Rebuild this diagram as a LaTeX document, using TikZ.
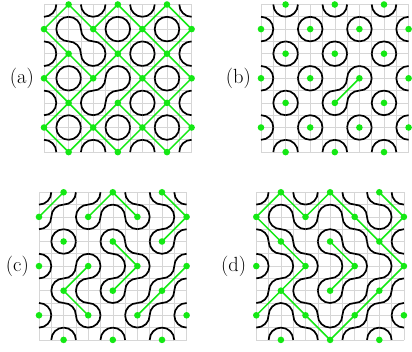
\documentclass[tikz,border=0pt]{standalone}
\definecolor{dotgreen}{RGB}{20,232,20}
\def\latu{24.6}
\def\halfu{12.3}
\tikzset{
  gridline/.style={black!16, line width=0.6pt},
  loopline/.style={black, line width=1.7pt},
  clusterline/.style={dotgreen, line width=1.5pt, shorten <=-1.5pt, shorten >=-1.5pt},
  gdot/.style={circle, fill=dotgreen, inner sep=0pt, minimum size=6.6pt},
  lbl/.style={font=\fontsize{20.5}{24}\selectfont, anchor=east, inner sep=0pt}
}
\newcommand\tilepanel[4]{%
\begin{scope}[shift={(#2,-#3)}]
 \foreach \i in {0,...,12}{
   \draw[gridline] (\i*\halfu,0) -- (\i*\halfu,-12*\halfu);
   \draw[gridline] (0,-\i*\halfu) -- (12*\halfu,-\i*\halfu);
 }
 \foreach \rowlist [count=\br from 0] in {#4}{
   \foreach \s [count=\bc from 0] in \rowlist{
     \pgfmathtruncatemacro\m{mod(\bc+\br+\s,2)}
     \ifnum\m=1
       \draw[loopline] (\bc*\latu+\halfu,-\br*\latu) arc[start angle=0,end angle=-90,radius=\halfu];
       \draw[loopline] (\bc*\latu+\halfu,-\br*\latu-\latu) arc[start angle=180,end angle=90,radius=\halfu];
     \else
       \draw[loopline] (\bc*\latu+\halfu,-\br*\latu) arc[start angle=180,end angle=270,radius=\halfu];
       \draw[loopline] (\bc*\latu+\halfu,-\br*\latu-\latu) arc[start angle=0,end angle=90,radius=\halfu];
     \fi
   }
 }
 \foreach \c in {0,...,6}{
   \foreach \r in {0,...,6}{
     \pgfmathtruncatemacro\q{mod(\c+\r,2)}
     \ifnum\q=1 \node[gdot] (#1-\c-\r) at (\c*\latu,-\r*\latu) {}; \fi
   }
 }
 \foreach \rowlist [count=\br from 0] in {#4}{
   \foreach \s [count=\bc from 0] in \rowlist{
     \ifnum\s=1
       \pgfmathtruncatemacro\p{mod(\bc+\br,2)}
       \pgfmathtruncatemacro\cc{\bc+1}
       \pgfmathtruncatemacro\rr{\br+1}
       \ifnum\p=0
         \draw[clusterline] (#1-\cc-\br) -- (#1-\bc-\rr);
       \else
         \draw[clusterline] (#1-\bc-\br) -- (#1-\cc-\rr);
       \fi
     \fi
   }
 }
 \node[lbl] (#1-label) at (-10,-3*\latu) {(#1)};
\end{scope}}
\begin{document}
\begin{tikzpicture}[x=1pt,y=1pt]
\fill[white] (0,0) rectangle (412,-352);
\useasboundingbox (0,0) rectangle (412,-352);
\tilepanel{a}{44}{4.5}{{1,1,1,1,1,1},{1,0,1,1,1,1},{1,1,1,1,1,1},{1,1,0,1,1,1},{1,1,1,1,1,1},{1,1,1,1,1,1}}
\tilepanel{b}{261}{4.5}{{0,0,0,0,0,0},{0,0,0,0,0,0},{0,0,0,0,0,0},{0,0,0,1,0,0},{0,0,0,0,0,0},{0,0,0,0,0,0}}
\tilepanel{c}{39}{192.3}{{1,0,1,1,0,1},{0,0,0,0,0,1},{0,0,0,1,0,0},{0,1,0,1,0,1},{0,1,0,0,1,0},{0,0,0,0,0,0}}
\tilepanel{d}{256.3}{192.3}{{1,1,1,1,0,1},{1,0,0,0,1,1},{0,1,0,1,0,1},{0,1,0,1,0,1},{1,1,0,0,1,0},{0,0,1,1,0,0}}
\end{tikzpicture}
\end{document}
